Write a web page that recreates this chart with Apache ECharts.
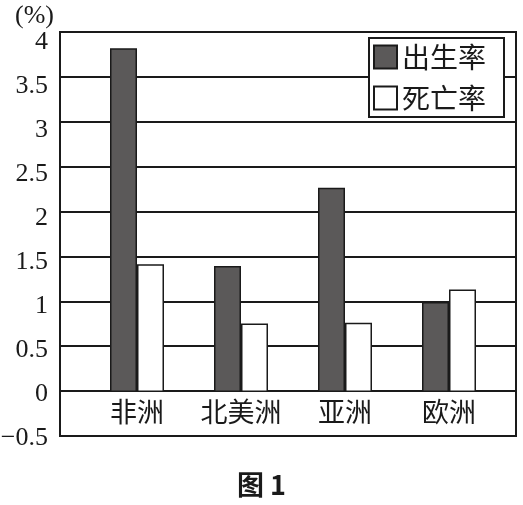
<!DOCTYPE html>
<html>
<head>
<meta charset="utf-8">
<script src="https://cdn.jsdelivr.net/npm/echarts@6/dist/echarts.min.js"></script>
<style>
  html, body { margin: 0; padding: 0; background: #fff; }
  #main { width: 523px; height: 505px; }
</style>
</head>
<body>
<div id="main"></div>
<script>
// 数据
var categories = ['非洲', '北美洲', '亚洲', '欧洲'];
var birthRate = [3.82, 1.40, 2.27, 1.00];
var deathRate = [1.42, 0.76, 0.77, 1.14];
var yTicks = [-0.5, 0, 0.5, 1, 1.5, 2, 2.5, 3, 3.5, 4];

var serif = '"Liberation Serif", "Noto Sans CJK SC", serif';
var cjk = '"Noto Sans CJK SC", sans-serif';

var chart = echarts.init(document.getElementById('main'));
chart.setOption({
  backgroundColor: '#fff',
  animation: false,
  title: {
    text: '图 1',
    left: 'center',
    top: 466,
    textStyle: { fontFamily: cjk, fontSize: 27, fontWeight: 'bold', color: '#1a1a1a' }
  },
  legend: {
    orient: 'vertical',
    left: 369,
    top: 38,
    padding: [5, 18, 5, 4],
    itemGap: 13,
    itemWidth: 23,
    itemHeight: 23,
    backgroundColor: '#fff',
    borderColor: '#1a1a1a',
    borderWidth: 2,
    textStyle: { fontFamily: cjk, fontSize: 28, color: '#1a1a1a' },
    data: [
      { name: '出生率', icon: 'rect' },
      { name: '死亡率', icon: 'rect' }
    ]
  },
  graphic: [{
    type: 'text',
    left: 15,
    top: 3,
    style: { text: '(%)', font: '26px ' + serif, fill: '#1a1a1a' }
  }],
  grid: [
    // 外框和网格线
    { left: 60, right: 7, top: 32, bottom: 69, outerBoundsMode: 'none', show: true, borderColor: '#1a1a1a', borderWidth: 2 },
    // 柱子（0 到 4）
    { left: 85, right: 22, top: 32, bottom: 113, outerBoundsMode: 'none' },
    // 刻度文字（原图略有压缩）
    { left: 60, right: 7, top: 42, bottom: 67, outerBoundsMode: 'none' }
  ],
  xAxis: [
    { gridIndex: 0, type: 'category', data: categories, show: false },
    {
      gridIndex: 1,
      type: 'category',
      data: categories,
      axisLine: { show: false },
      axisTick: { show: false },
      axisLabel: { interval: 0, margin: 6, fontFamily: cjk, fontSize: 27, color: '#1a1a1a' }
    },
    { gridIndex: 2, type: 'category', data: categories, show: false }
  ],
  yAxis: [
    {
      gridIndex: 0,
      type: 'value',
      min: yTicks[0],
      max: yTicks[yTicks.length - 1],
      interval: 0.5,
      axisLine: { show: false },
      axisTick: { show: false },
      axisLabel: { show: false },
      splitLine: { lineStyle: { color: '#1a1a1a', width: 2 } }
    },
    {
      gridIndex: 1,
      type: 'value',
      min: 0,
      max: 4,
      interval: 0.5,
      show: false,
      splitLine: { show: false }
    },
    {
      gridIndex: 2,
      type: 'value',
      min: yTicks[0],
      max: yTicks[yTicks.length - 1],
      interval: 0.5,
      axisLine: { show: false },
      axisTick: { show: false },
      splitLine: { show: false },
      axisLabel: {
        margin: 12,
        fontFamily: serif,
        fontSize: 26,
        color: '#1a1a1a',
        formatter: function (v) { return String(v).replace('-', '−'); }
      }
    }
  ],
  series: [
    {
      name: '出生率',
      type: 'bar',
      xAxisIndex: 1,
      yAxisIndex: 1,
      barWidth: 27,
      barGap: '0%',
      itemStyle: { color: '#5b5959', borderColor: '#1a1a1a', borderWidth: 1.5 },
      data: birthRate
    },
    {
      name: '死亡率',
      type: 'bar',
      xAxisIndex: 1,
      yAxisIndex: 1,
      barWidth: 27,
      barGap: '0%',
      itemStyle: { color: '#fff', borderColor: '#1a1a1a', borderWidth: 1.5 },
      data: deathRate
    }
  ]
});
</script>
</body>
</html>
